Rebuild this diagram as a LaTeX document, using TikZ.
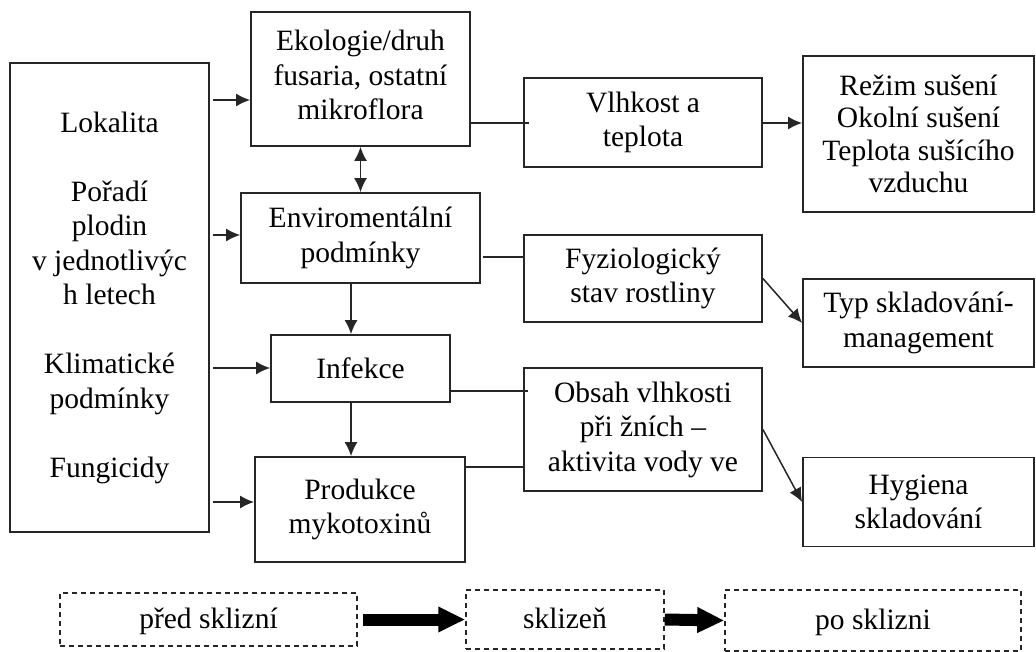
\documentclass[tikz,border=0pt]{standalone}
\usepackage{fontspec}
\setmainfont{Liberation Serif}
\usetikzlibrary{arrows.meta}
\newcommand{\mfs}{\fontsize{29.5}{34.5}\selectfont}
\newcommand{\rfs}{\fontsize{29.5}{32.5}\selectfont}
\tikzset{
  box/.style={draw=black!85, line width=1.8pt, inner sep=0pt, align=center, font=\mfs},
  dbox/.style={draw=black!85, line width=1.5pt, dash pattern=on 5pt off 4pt, inner sep=0pt, font=\mfs, text height=20pt, text depth=3pt},
  conn/.style={draw=black!85, line width=1.5pt},
  arr/.style={conn, -{Latex[length=14pt,width=13pt]}},
  darr/.style={conn, {Latex[length=14pt,width=13pt]}-{Latex[length=14pt,width=13pt]}},
  big/.style={line width=12pt, -{Triangle[length=27pt,width=24pt]}}
}
\begin{document}
\begin{tikzpicture}[x=1pt,y=-1pt]
\useasboundingbox[fill=white] (0,0) rectangle (1036,652);

% main boxes
\node[box, minimum width=199pt, minimum height=469pt] (left) at (109.5,297.5)
  {Lokalita\\[34.5pt]Pořadí\\plodin\\v jednotlivýc\\h letech\\[34.5pt]Klimatické\\podmínky\\[34.5pt]Fungicidy};
\node[box, minimum width=219pt, minimum height=134pt,
  label={[font=\mfs, align=center, yshift=4pt]center:Ekologie/druh\\fusaria, ostatní\\mikroflora}] (ekol) at (360.5,79) {};
\node[box, minimum width=239pt, minimum height=90pt] (envi) at (360.5,238)
  {Enviromentální\\podmínky};
\node[box, minimum width=179pt, minimum height=67pt] (infe) at (360.5,368.5)
  {Infekce};
\node[box, minimum width=210pt, minimum height=105pt] (prod) at (360,509.5)
  {Produkce\\mykotoxinů};
\node[box, minimum width=238pt, minimum height=89pt] (vlh) at (643,122.5)
  {Vlhkost a\\teplota};
\node[box, minimum width=238pt, minimum height=87pt] (fyz) at (643,278.5)
  {Fyziologický\\stav rostliny};
\node[box, minimum width=238pt, minimum height=123pt] (obs) at (643,429.5)
  {Obsah vlhkosti\\při žních –\\aktivita vody ve};
\node[box, font=\rfs, minimum width=231pt, minimum height=156pt] (rez) at (918.5,134)
  {Režim sušení\\Okolní sušení\\Teplota sušícího\\vzduchu};
\node[box, minimum width=231pt, minimum height=88pt] (typ) at (918.5,323)
  {Typ skladování-\\management};
\node[box, minimum width=231pt, minimum height=89pt] (hyg) at (918.5,502)
  {Hygiena\\skladování};

% phase boxes
\node[dbox, minimum width=297pt, minimum height=53pt] (pred) at (208.5,619.5) {před sklizní};
\node[dbox, minimum width=198pt, minimum height=59pt] (skl) at (565,619.5) {sklizeň};
\node[dbox, minimum width=296pt, minimum height=61pt] (po) at (873,620.5) {po sklizni};

% helper coordinates
\coordinate (r1) at (0,100);
\coordinate (r2) at (0,235);
\coordinate (r3) at (0,368);
\coordinate (r4) at (0,502);
\coordinate (vx) at (351,0);
\coordinate (h1) at (0,123);
\coordinate (h2) at (0,257);
\coordinate (h3) at (0,391);
\coordinate (h4) at (0,467);

% arrows from left box
\draw[arr, shorten <=3pt] (left.east |- r1) -- (ekol.west |- r1);
\draw[arr, shorten <=3pt] (left.east |- r2) -- (envi.west |- r2);
\draw[arr, shorten <=3pt] (left.east |- r3) -- (infe.west |- r3);
\draw[arr, shorten <=3pt] (left.east |- r4) -- (prod.west |- r4);

% vertical arrows
\draw[darr] (ekol.south) -- (envi.north);
\draw[arr] (vx |- envi.south) -- (vx |- infe.north);
\draw[arr] (vx |- infe.south) -- (vx |- prod.north);

% horizontal links
\draw[conn, shorten >=-6pt] (ekol.east |- h1) -- (vlh.west |- h1);
\draw[conn, shorten <=2pt] (envi.east |- h2) -- (fyz.west |- h2);
\draw[conn, shorten >=-5pt] (infe.east |- h3) -- (obs.west |- h3);
\draw[conn] (prod.east |- h4) -- (obs.west |- h4);
\draw[arr] (vlh.east |- h1) -- (rez.west |- h1);
\draw[arr] (fyz.east) -- (typ.west);
\draw[arr] (obs.east) -- (hyg.west);

% phase arrows
\draw[big, shorten <=5pt] (pred.east) -- (skl.west);
\draw[big] (skl.east) -- (po.west);
\end{tikzpicture}
\end{document}
